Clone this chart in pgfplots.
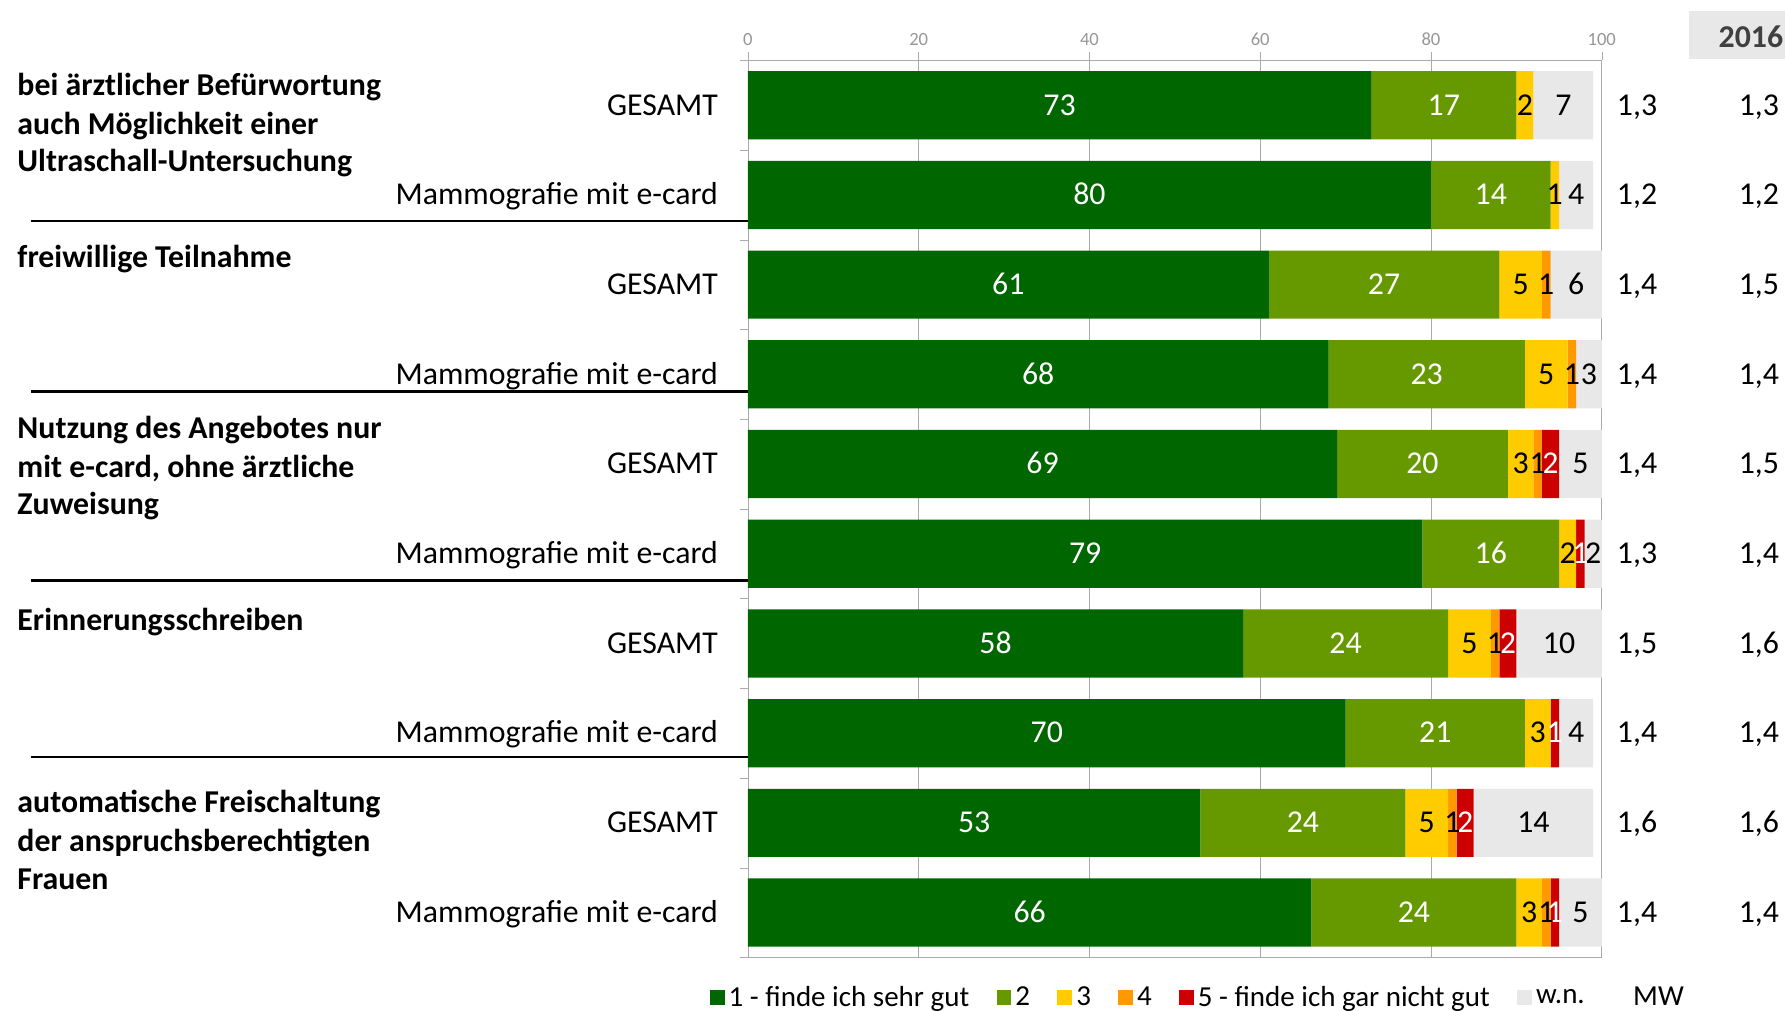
\documentclass[border=0pt]{standalone}
\usepackage{fontspec}
\setmainfont{Carlito}
\usepackage{pgfplots}
\usepackage{pgfplotstable}
\pgfplotsset{compat=1.18}

\definecolor{c1}{RGB}{0,102,0}
\definecolor{c2}{RGB}{102,153,0}
\definecolor{c3}{RGB}{255,204,0}
\definecolor{c4}{RGB}{255,153,0}
\definecolor{c5}{RGB}{204,0,0}
\definecolor{cwn}{RGB}{232,232,232}
\definecolor{linegrey}{RGB}{170,170,170}
\definecolor{tickgrey}{RGB}{150,150,150}
\definecolor{headgrey}{RGB}{64,64,64}

\newcommand\bigf{\fontsize{15.9}{19.1}\selectfont}
\newcommand\legf{\fontsize{14.5}{17.4}\selectfont}
\newcommand\tickf{\fontsize{9.3}{11}\selectfont}

\pgfplotsset{
  sqleg/.style={legend image code/.code={\fill[##1] (0mm,-1.3mm) rectangle (2.6mm,1.3mm);}},
}
% digits and capitals centred on the anchor (cap height of Carlito at 15.9pt)
\tikzset{capcenter/.style={text height=9.8pt, text depth=0pt, inner sep=0pt}}

% answers in percent, mean value (MW) and mean value 2016
\pgfplotstableread{
row label v1 v2 v3 v4 v5 wn mw mwalt
0 GESAMT 73 17 2 0 0 7 1,3 1,3
1 {Mammografie mit e-card} 80 14 1 0 0 4 1,2 1,2
2 GESAMT 61 27 5 1 0 6 1,4 1,5
3 {Mammografie mit e-card} 68 23 5 1 0 3 1,4 1,4
4 GESAMT 69 20 3 1 2 5 1,4 1,5
5 {Mammografie mit e-card} 79 16 2 0 1 2 1,3 1,4
6 GESAMT 58 24 5 1 2 10 1,5 1,6
7 {Mammografie mit e-card} 70 21 3 0 1 4 1,4 1,4
8 GESAMT 53 24 5 1 2 14 1,6 1,6
9 {Mammografie mit e-card} 66 24 3 1 1 5 1,4 1,4
}\data

\newcommand\seg[3]{%
  \addplot[fill=#1, draw=none, point meta=explicit,
    every node near coord/.append style={text=#3}, sqleg]
    table[x=#2, y=row, meta=#2] {\data};}

\begin{document}
\begin{tikzpicture}[x=0.2mm, y=-0.2mm]
  \path[use as bounding box] (0,0) rectangle (1568,888);
  \coordinate (axorig) at (657,53);

  \begin{axis}[
    at={(axorig)}, anchor=north west,
    scale only axis, width=150mm, height=157.6mm,
    xbar stacked, bar width=0.76,
    xmin=0, xmax=100, ymin=-0.5, ymax=9.5, y dir=reverse,
    axis line style={linegrey},
    tick style={linegrey}, major tick length=1.4mm, tick align=outside,
    xtick={0,20,...,100}, xtick pos=right, xticklabel pos=right,
    xticklabel style={font=\tickf, text=tickgrey},
    /pgf/number format/assume math mode=true,
    xmajorgrids, grid style={linegrey},
    ytick={-0.5,0.5,...,9.5}, yticklabels={}, ytick pos=left,
    nodes near coords={\pgfmathfloatifflags{\pgfplotspointmeta}{0}{}{\pgfmathprintnumber{\pgfplotspointmeta}}},
    every node near coord/.append style={anchor=center, font=\bigf, capcenter},
    legend columns=-1,
    legend style={draw=none, fill=none, font=\legf, at={(-0.052,-0.045)}, anchor=west,
      /tikz/every even column/.append style={column sep=4.1mm}},
  ]
    \seg{c1}{v1}{white}
    \addlegendentry{1 - finde ich sehr gut}
    \seg{c2}{v2}{white}
    \addlegendentry{2}
    \seg{c3}{v3}{black}
    \addlegendentry{3}
    \seg{c4}{v4}{black}
    \addlegendentry{4}
    \seg{c5}{v5}{white}
    \addlegendentry{5 - finde ich gar nicht gut}
    \seg{cwn}{wn}{black}
    \addlegendentry{w.n.}
    \addlegendimage{empty legend}
    \addlegendentry{\hspace{3.0mm}MW}
  \end{axis}

  % row labels and mean values
  \begin{axis}[
    at={(axorig)}, anchor=north west,
    scale only axis, width=150mm, height=157.6mm,
    xmin=0, xmax=100, ymin=-0.5, ymax=9.5, y dir=reverse,
    hide axis, clip=false,
    point meta=explicit symbolic,
    nodes near coords,
  ]
    \addplot[draw=none, mark=none, every node near coord/.append style={anchor=center, font=\bigf, capcenter}]
      table[x expr=104.13, y=row, meta=mw] {\data};
    \addplot[draw=none, mark=none, every node near coord/.append style={anchor=center, font=\bigf, capcenter}]
      table[x expr=118.4, y=row, meta=mwalt] {\data};
    \addplot[draw=none, mark=none, every node near coord/.append style={anchor=east, font=\bigf, capcenter}]
      table[x expr=-3.47, y=row, meta=label] {\data};
  \end{axis}

  % 2016 header
  \fill[cwn] (1484,10) rectangle (1570,52);
  \node[font=\bigf\bfseries, text=headgrey] at (1538,32) {2016};

  % group labels
  \begin{scope}[every node/.style={anchor=base west, inner sep=0pt, font=\bigf\bfseries}]
    \node at (15,84) {bei ärztlicher Befürwortung};
    \node at (15,118) {auch Möglichkeit einer};
    \node at (15,151) {Ultraschall-Untersuchung};
    \node at (15,235) {freiwillige Teilnahme};
    \node at (15,385) {Nutzung des Angebotes nur};
    \node at (15,419) {mit e-card, ohne ärztliche};
    \node at (15,452) {Zuweisung};
    \node at (15,554) {Erinnerungsschreiben};
    \node at (15,714) {automatische Freischaltung};
    \node at (15,748) {der anspruchsberechtigten};
    \node at (15,781) {Frauen};
  \end{scope}

  % separators
  \foreach \yy in {194,344,510,665}
    \draw[line width=0.4mm] (27,\yy) -- (657,\yy);
\end{tikzpicture}
\end{document}
